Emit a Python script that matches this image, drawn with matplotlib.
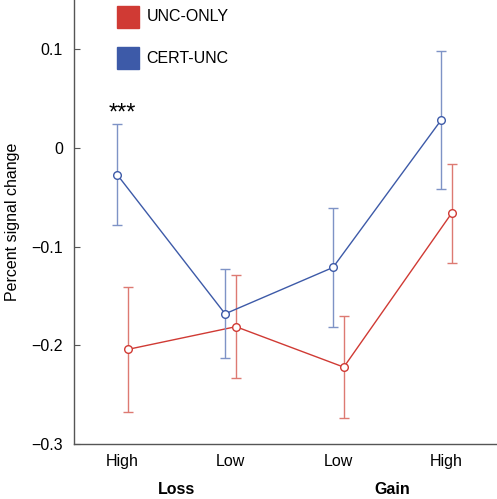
import matplotlib.pyplot as plt
import numpy as np

plt.rcParams["font.family"] = ["Liberation Sans", "DejaVu Sans"]

# data setting
conditions = ["High", "Low", "Low", "High"]
groups = ["Loss", "Gain"]

unc_only = [-0.204, -0.181, -0.222, -0.066]
unc_only_err = [0.063, 0.052, 0.052, 0.050]

cert_unc = [-0.027, -0.168, -0.121, 0.028]
cert_unc_err = [0.051, 0.045, 0.060, 0.070]

red = "#d03a34"
blue = "#3d5aa8"
red_light = "#dd7a72"
blue_light = "#7e93c6"

x = np.arange(len(conditions))
shift = 0.05

fig = plt.figure(figsize=(4.97, 4.99), dpi=100)
ax = fig.add_axes([0.149, 0.110, 0.851, 0.890])

ax.errorbar(x + shift, unc_only, yerr=unc_only_err, fmt="none",
            ecolor=red_light, elinewidth=1, capsize=3.5, capthick=1)
ax.plot(x + shift, unc_only, color=red, lw=1, marker="o", ms=5.5,
        mfc="white", mec=red, mew=1)

ax.errorbar(x - shift, cert_unc, yerr=cert_unc_err, fmt="none",
            ecolor=blue_light, elinewidth=1, capsize=3.5, capthick=1)
ax.plot(x - shift, cert_unc, color=blue, lw=1, marker="o", ms=5.5,
        mfc="white", mec=blue, mew=1)

ax.set_xlim(-0.45, 3.47)
ax.set_ylim(-0.3, 0.15)
ax.set_yticks([-0.3, -0.2, -0.1, 0, 0.1])
ax.set_yticklabels(["\u22120.3", "\u22120.2", "\u22120.1", "0", "0.1"])
ax.set_xticks(x)
ax.set_xticklabels(conditions)
ax.tick_params(axis="y", direction="in", length=4, color="#555555",
               labelsize=11.5, pad=8)
ax.tick_params(axis="x", length=0, labelsize=11.5, pad=7)

for s in ["top", "right"]:
    ax.spines[s].set_visible(False)
for s in ["left", "bottom"]:
    ax.spines[s].set_color("#555555")
    ax.spines[s].set_linewidth(1)

ax.set_ylabel("Percent signal change", fontsize=11.5, labelpad=8)

# group labels
for i, g in enumerate(groups):
    ax.text(2 * i + 0.5, -0.346, g, ha="center", va="center",
            fontsize=11.5, fontweight="bold")

# significance
ax.text(0, 0.035, "***", ha="center", va="center", fontsize=17)

# legend boxes
ax.add_patch(plt.Rectangle((-0.05, 0.122), 0.2, 0.022, color=red,
                           clip_on=False))
ax.text(0.22, 0.133, "UNC-ONLY", va="center", fontsize=11.5)
ax.add_patch(plt.Rectangle((-0.05, 0.080), 0.2, 0.022, color=blue,
                           clip_on=False))
ax.text(0.22, 0.091, "CERT-UNC", va="center", fontsize=11.5)

plt.savefig("out.png", dpi=100)
